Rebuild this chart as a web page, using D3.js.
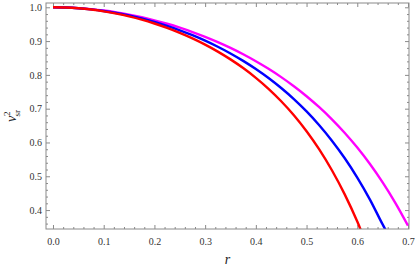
<!DOCTYPE html>
<html>
<head>
<meta charset="utf-8">
<script src="https://cdn.jsdelivr.net/npm/d3@7"></script>
<style>
  body { margin: 0; background: #fff; }
  svg text { font-family: 'Liberation Serif', 'Times New Roman', 'DejaVu Serif', serif; }
  .tick text { font-size: 10px; fill: #333; }
  .tick line { stroke: #8a8a8a; }
</style>
</head>
<body>
<div id="chart"></div>
<script>
// r values (shared by all curves)
var rValues = [0, 0.025, 0.05, 0.075, 0.1, 0.125, 0.15, 0.175, 0.2, 0.225, 0.25, 0.275, 0.3,
  0.325, 0.35, 0.375, 0.4, 0.425, 0.45, 0.475, 0.5, 0.525, 0.55, 0.575, 0.6, 0.625, 0.65, 0.675, 0.7];

// v_sr^2
var redValues = [1, 0.9993, 0.997, 0.9933, 0.9881, 0.9813, 0.9731, 0.9634, 0.952, 0.9391, 0.9244,
  0.908, 0.8895, 0.8689, 0.8459, 0.8202, 0.7913, 0.7588, 0.7221, 0.6807, 0.6334, 0.5796, 0.5179,
  0.4472, 0.3661, 0.2727];
var blueValues = [1, 0.9993, 0.9973, 0.9939, 0.9892, 0.9831, 0.9757, 0.9669, 0.9567, 0.9451, 0.932,
  0.9174, 0.9012, 0.8832, 0.8634, 0.8415, 0.8174, 0.7907, 0.7611, 0.7283, 0.6918, 0.651, 0.6053,
  0.554, 0.4962, 0.4311, 0.3575, 0.29];
var magentaValues = [1, 0.9994, 0.9976, 0.9946, 0.9904, 0.985, 0.9784, 0.9706, 0.9615, 0.9513,
  0.9397, 0.9268, 0.9126, 0.8969, 0.8798, 0.861, 0.8404, 0.818, 0.7934, 0.7664, 0.7369, 0.7043,
  0.6685, 0.6288, 0.5849, 0.5362, 0.4819, 0.4215, 0.354];

var xTicks = [0, 0.1, 0.2, 0.3, 0.4, 0.5, 0.6, 0.7];
var yTicks = [0.4, 0.5, 0.6, 0.7, 0.8, 0.9, 1.0];

var svgWidth = 415, svgHeight = 272;
var margin = { top: 3, right: 6, bottom: 43, left: 46 };
var width = svgWidth - margin.left - margin.right;
var height = svgHeight - margin.top - margin.bottom;

var svg = d3.select("#chart").append("svg")
    .attr("width", svgWidth)
    .attr("height", svgHeight);

var g = svg.append("g")
    .attr("transform", `translate(${margin.left}, ${margin.top})`);

var x = d3.scaleLinear().domain([-0.0138, 0.702]).range([0, width]);
var y = d3.scaleLinear().domain([0.344, 1.0127]).range([height, 0]);

// minor ticks every 0.02
var xMinor = d3.range(0, 0.701, 0.02).filter(v => Math.abs(v * 10 - Math.round(v * 10)) > 1e-6);
var yMinor = d3.range(0.36, 1.001, 0.02).filter(v => Math.abs(v * 10 - Math.round(v * 10)) > 1e-6);

function addAxis(axis, transform, cls) {
    var a = g.append("g").attr("class", cls).attr("transform", transform).call(axis);
    a.select(".domain").remove();
    a.attr("font-family", null);
    return a;
}

// bottom / top
addAxis(d3.axisBottom(x).tickValues(xTicks).tickSize(-4).tickPadding(9).tickFormat(d3.format(".1f")),
    `translate(0, ${height})`, "xaxis");
addAxis(d3.axisBottom(x).tickValues(xMinor).tickSize(-2).tickFormat(""), `translate(0, ${height})`, "xminor");
addAxis(d3.axisTop(x).tickValues(xTicks).tickSize(-4).tickFormat(""), "translate(0,0)", "xtop");
addAxis(d3.axisTop(x).tickValues(xMinor).tickSize(-2).tickFormat(""), "translate(0,0)", "xtopminor");

// left / right
addAxis(d3.axisLeft(y).tickValues(yTicks).tickSize(-4).tickPadding(4).tickFormat(d3.format(".1f")),
    "translate(0,0)", "yaxis");
addAxis(d3.axisLeft(y).tickValues(yMinor).tickSize(-2).tickFormat(""), "translate(0,0)", "yminor");
addAxis(d3.axisRight(y).tickValues(yTicks).tickSize(-4).tickFormat(""), `translate(${width}, 0)`, "yright");
addAxis(d3.axisRight(y).tickValues(yMinor).tickSize(-2).tickFormat(""), `translate(${width}, 0)`, "yrightminor");

// clip so the curves stop at the frame
g.append("clipPath").attr("id", "clip")
  .append("rect").attr("width", width).attr("height", height);

var line = d3.line()
    .x(d => x(d[0]))
    .y(d => y(d[1]))
    .curve(d3.curveMonotoneX);

var series = [
    { values: magentaValues, color: "#ff00ff" },
    { values: blueValues, color: "#0000ff" },
    { values: redValues, color: "#ff0000" }
];

series.forEach(s => {
    var pts = s.values.map((v, i) => [rValues[i], v]);
    g.append("path")
        .attr("clip-path", "url(#clip)")
        .attr("d", line(pts))
        .attr("fill", "none")
        .attr("stroke", s.color)
        .attr("stroke-width", 2.4);
});

// frame
g.append("rect")
    .attr("width", width).attr("height", height)
    .attr("fill", "none").attr("stroke", "#8a8a8a").attr("stroke-width", 1);

// axis labels
g.append("text")
    .attr("x", width / 2)
    .attr("y", height + 35)
    .attr("text-anchor", "middle")
    .style("font-style", "italic")
    .style("font-size", "14px")
    .style("fill", "#222")
    .text("r");

var yl = g.append("text")
    .attr("transform", `translate(${-30}, ${height / 2}) rotate(-90)`)
    .attr("text-anchor", "middle")
    .style("font-size", "14px")
    .style("fill", "#222");
yl.append("tspan").style("font-style", "italic").text("v");
yl.append("tspan").attr("dy", -6).style("font-size", "9px").text("2");
yl.append("tspan").attr("dy", 10).attr("dx", -5).style("font-size", "9px").text("sr");
</script>
</body>
</html>
